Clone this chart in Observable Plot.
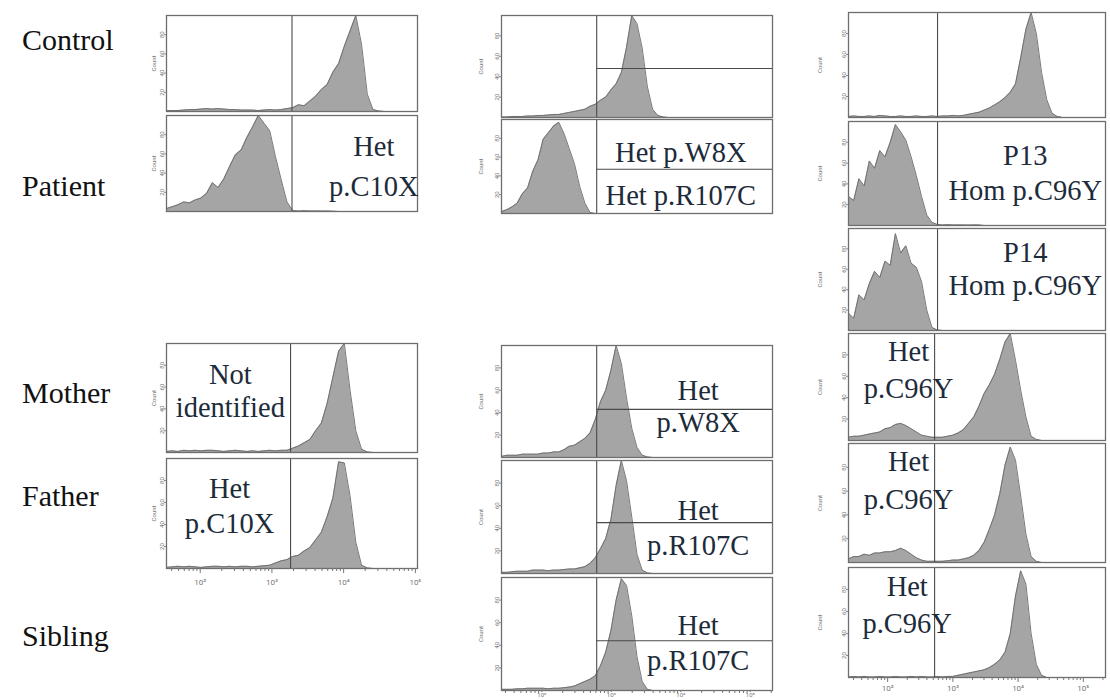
<!DOCTYPE html>
<html><head><meta charset="utf-8">
<script src="https://cdn.jsdelivr.net/npm/d3@7"></script>
<script src="https://cdn.jsdelivr.net/npm/@observablehq/plot@0.6"></script>
<style>
html,body{margin:0;padding:0;background:#fff;}
#root{position:relative;width:1110px;height:700px;overflow:hidden;background:#fff;}
.row{position:absolute;left:22px;font-family:"Liberation Serif","DejaVu Serif",serif;font-size:30px;line-height:30px;color:#111;white-space:nowrap;}
.panel{position:absolute;}
.panel svg{overflow:visible;}
</style></head><body><div id="root"></div>
<script>
// ---- row labels ----
const rowLabels = ["Control", "Patient", "Mother", "Father", "Sibling"];
const rowBaselines = [50, 196, 403, 506, 646];

// ---- histogram counts (relative counts, % of panel max), one value per log bin ----
const col1Control = [1,1,1,1.5,2,2,2.5,3,2.5,3,2.5,2,2,1.5,1.5,1.5,1,1.5,2,1.5,2,3,4,7,6,11,16,23,28,41,50,68,84,100,70,18,2,0.5,0];
const col1Patient = [3,5,7,10,9,12,14,19,30,25,34,47,59,64,77,88,100,92,84,57,33,10,1,0.5,0.8,0.5,0.6,0.4,0.5,0.3,0];
const col1Mother  = [1,1.5,1,2,1.5,2,1.5,2,2,1.5,1,1.5,2,1.5,1,1.5,1,1.5,2,1.5,2,2,4,6,9,12,20,27,45,69,93,100,57,20,3,0.5,0];
const col1Father  = [1,1.5,2,1.5,2,1.5,1,1.5,2,2,1.5,2,1.5,2,2,1.5,2,2.5,3,5,7,8,11,12,16,19,26,33,47,64,97,96,66,24,3,0.5,0];

const col2Control = [0.5,0.5,1,1,1,1.5,1.5,2,2,2.5,3,3,4,5,6,7,8,11,13,17,20,27,33,44,69,100,92,68,30,8,2,0.5,0];
const col2Patient = [2,4,7,11,21,27,45,57,79,86,93,97,85,69,53,29,11,1,0];
const col2Mother  = [1,2,2,2,3,3,3,3,4,4,5,5,7,10,11,14,17,22,34,50,60,78,100,84,53,26,9,2,0.5,0];
const col2Father  = [1,1,1.5,2,2,2,3,3,3,2.5,3,3,3.5,4,4,5,6,9,14,22,31,48,78,100,82,50,17,3,0.5,0];
const col2Sibling = [1,1,1,1.5,1.5,2,2,2,2,1.5,2,2,2.5,3,4,6,8,10,13,22,34,53,80,99,93,66,30,8,1,0];

const col3Control = [1,1.5,1,1,1.5,1,2,1.5,1,1,1.5,1,1,1.5,1,1,1.5,1,1.5,1.5,2,1.5,2,3,4,5,7,9,12,15,19,24,32,57,84,100,80,43,17,4,1,0];
const col3P13     = [28,24,45,38,62,55,72,66,80,97,90,82,66,48,28,10,3,1,0.5,0.8,0.5,0.6,0.5,0.4,0.6,0.5,0];
const col3P14     = [17,12,35,30,46,58,52,68,64,95,76,83,66,62,48,20,3,0.5,0];
const col3Mother  = [3,4,4,5,6,7,8,11,12,15,16,14,11,8,5,4,3,3,3,4,5,7,10,16,22,32,44,52,62,76,92,100,75,47,22,4,1,0];
const col3Father  = [3,5,5,7,6,8,8,9,9,10,12,10,7,4,2,1,1,1,1,1.5,2,2,3,4,6,10,17,28,40,58,82,97,86,56,24,5,1,0];
const col3Sibling = [0.5,1,0.5,1,0.5,0.5,1,0.5,0.5,1,0.5,0.5,1,0.5,1,0.5,0.5,1,0.5,1,1,2,3,4,5,6,7,9,12,16,23,40,74,97,85,40,12,2,0];

// ---- annotation texts ----
const labelC10X = "Het\np.C10X";
const labelNotId = "Not\nidentified";
const labelW8XR107C = "Het p.W8X\nHet p.R107C";
const labelW8X = "Het\np.W8X";
const labelR107C = "Het\np.R107C";
const labelP13 = "P13\nHom p.C96Y";
const labelP14 = "P14\nHom p.C96Y";
const labelC96Y = "Het\np.C96Y";

// ---- axis ticks ----
const tickExponents = [2, 3, 4, 5];
const minorMultipliers = [2, 3, 4, 5, 6, 7, 8, 9];
const yTicks = [20, 40, 60, 80];

const SERIF = '"Liberation Serif", "DejaVu Serif", serif';

// ---- layout (log10 fluorescence domain per column) ----
const col1 = {lo: 1.53, hi: 5.03, step: 0.08, left: 166, width: 251, gate: 3.28, mL: 20, lab: 15, pad: 6};
const col2 = {lo: 1.42, hi: 5.32, step: 0.075, left: 501, width: 271, gate: 2.79, mL: 28, lab: 23, pad: 0};
const col3 = {lo: 1.40, hi: 5.34, step: 0.08, left: 848, width: 257, gate: 2.765, mL: 36, lab: 31, pad: 3};

const panels = [
  {col: col1, data: col1Control, top: 15, h: 96},
  {col: col1, data: col1Patient, top: 115, h: 96, text: labelC10X, tx: 4.42, dy: 0, lh: 1.37},
  {col: col1, data: col1Mother, top: 343, h: 109, gate: 3.26, text: labelNotId, tx: 2.42, dy: -8, lh: 1.16},
  {col: col1, data: col1Father, top: 458, h: 110, gate: 3.26, text: labelC10X, tx: 2.41, dy: -9.5, lh: 1.23, axis: true},

  {col: col2, data: col2Control, top: 15, h: 102, hline: 48},
  {col: col2, data: col2Patient, top: 119, h: 94, hline: 47, text: labelW8XR107C, tx: 4.0, dy: 3, lh: 1.5},
  {col: col2, data: col2Mother, top: 345, h: 112, hline: 43, text: labelW8X, tx: 4.25, dy: 4, lh: 1.12},
  {col: col2, data: col2Father, top: 460, h: 113, hline: 45, text: labelR107C, tx: 4.25, dy: 9, lh: 1.23},
  {col: col2, data: col2Sibling, top: 577, h: 113, hline: 44, text: labelR107C, tx: 4.25, dy: 7, lh: 1.23, axis: true, small: true},

  {col: col3, data: col3Control, top: 12, h: 105},
  {col: col3, data: col3P13, top: 121, h: 104, text: labelP13, tx: 4.11, dy: -2.5, lh: 1.23},
  {col: col3, data: col3P14, top: 228, h: 102, text: labelP14, tx: 4.11, dy: -11.5, lh: 1.16},
  {col: col3, data: col3Mother, top: 333, h: 107, gate: 2.72, text: labelC96Y, tx: 2.32, dy: -19, lh: 1.3},
  {col: col3, data: col3Father, top: 443, h: 119, gate: 2.72, text: labelC96Y, tx: 2.32, dy: -25.5, lh: 1.33},
  {col: col3, data: col3Sibling, top: 567, h: 110, gate: 2.72, text: labelC96Y, tx: 2.3, dy: -19.5, lh: 1.3, axis: true}
];

const root = document.getElementById("root");
const sup = {"0":"⁰","1":"¹","2":"²","3":"³","4":"⁴","5":"⁵","6":"⁶"};

rowLabels.forEach((t, i) => {
  const d = document.createElement("div");
  d.className = "row";
  d.textContent = t;
  d.style.top = (rowBaselines[i] - 25) + "px";
  root.appendChild(d);
});

const majorTicks = tickExponents.map(e => 10 ** e);
const minorTicks = [];
[1, ...tickExponents].forEach(e => minorMultipliers.forEach(m => minorTicks.push(m * 10 ** e)));

panels.forEach(p => {
  const c = p.col;
  const bins = p.data.map((v, i) => ({x: 10 ** (c.lo + c.step * i), y: v}));
  const gate = 10 ** (p.gate ?? c.gate);
  const xmax = 10 ** c.hi;
  const mT = 1, mR = 1, mB = p.axis ? 22 : 1;
  const marks = [
    Plot.areaY(bins, {x: "x", y: "y", fill: "#a5a5a5", curve: "linear"}),
    Plot.lineY(bins, {x: "x", y: "y", stroke: "#6a6a6a", strokeWidth: 0.9}),
    Plot.ruleX([gate], {stroke: "#4a4a4a", strokeWidth: 1.1}),
    Plot.frame({stroke: "#6e6e6e", strokeWidth: 1.3}),
    Plot.axisY({ticks: yTicks, tickSize: 2, tickRotate: -90, fontSize: 6, tickPadding: 1, fill: "#777", stroke: "#888",
      label: "Count", labelArrow: "none", labelAnchor: "center", labelOffset: c.lab})
  ];
  if (p.hline != null) marks.push(Plot.ruleY([p.hline], {x1: gate, x2: xmax, stroke: "#4a4a4a", strokeWidth: 1.1}));
  if (p.axis) {
    marks.push(Plot.axisX({ticks: minorTicks.filter(t => t > 10 ** c.lo && t < xmax), tickSize: 3, tickFormat: () => "", stroke: "#777", label: null}));
    marks.push(Plot.axisX({ticks: majorTicks, tickSize: p.small ? 2 : 5, tickPadding: c.pad, fontSize: p.small ? 6 : 8, fill: "#777", stroke: "#777",
      tickFormat: d => "10" + sup[String(Math.round(Math.log10(d)))], label: null}));
  }
  if (p.text) {
    marks.push(Plot.text([p.text], {text: d => d, x: 10 ** p.tx, frameAnchor: "middle", dy: p.dy, lineHeight: p.lh,
      fontSize: 28.5, fontFamily: SERIF, fill: "#1d2b3a", textAnchor: "middle"}));
  }
  const chart = Plot.plot({
    width: c.width + c.mL + mR,
    height: p.h + mT + mB,
    marginLeft: c.mL, marginRight: mR, marginTop: mT, marginBottom: mB,
    x: Object.assign({type: "log", domain: [10 ** c.lo, xmax]}, p.axis ? {} : {axis: null}),
    y: {domain: [0, 100]},
    style: {overflow: "visible", background: "transparent", fontFamily: "Roboto, sans-serif"},
    marks
  });
  const wrap = document.createElement("div");
  wrap.className = "panel";
  wrap.style.left = (c.left - c.mL) + "px";
  wrap.style.top = (p.top - mT) + "px";
  wrap.appendChild(chart);
  root.appendChild(wrap);
});
</script>
</body></html>
